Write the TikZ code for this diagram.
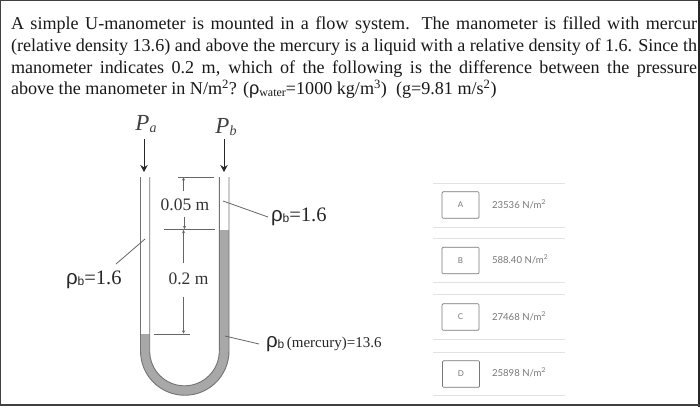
\documentclass[tikz,border=0pt]{standalone}
\usepackage{fontspec}
\setmainfont{Liberation Serif}
\newfontfamily\optfont{Lato}
\newfontfamily\rhofont{Liberation Sans}
\usetikzlibrary{arrows.meta}
\definecolor{merc}{HTML}{A8A8A8}
\definecolor{tube}{HTML}{666666}
\definecolor{optgrey}{HTML}{777777}
\definecolor{rulegrey}{HTML}{E2E2E2}
\newcommand{\rhob}{{\rhofont ρ}\raisebox{-1pt}{\rhofont\fontsize{12}{12}\selectfont b}}
\tikzset{
 every node/.style={inner sep=0pt,outer sep=0pt},
 qline/.style={anchor=base west,font=\fontsize{18.1}{22}\selectfont,text=black!90},
 sym/.style={font=\fontsize{23}{26}\selectfont\itshape,text=black!75},
 dimtext/.style={font=\fontsize{17.5}{20}\selectfont,text=black!80},
 rholabel/.style={font=\fontsize{20.5}{24}\selectfont,text=black!85},
 flow/.style={draw=black!85,line width=0.9pt,-{Stealth[length=7pt,width=7.5pt]}},
 dimrule/.style={draw=tube,line width=0.8pt},
 dimarrow/.style={draw=tube,line width=0.6pt,-{Stealth[length=3pt,width=3pt]}},
 leader/.style={draw=tube,line width=0.8pt},
 tubewall/.style={draw=black!55,line width=0.9pt},
 optbox/.style={draw=optgrey,rounded corners=1pt,line width=0.7pt,minimum width=37pt,minimum height=26.5pt,font=\optfont\fontsize{8}{9}\selectfont,text=optgrey},
 opttext/.style={anchor=west,font=\optfont\fontsize{9.6}{11}\selectfont,text=optgrey},
 optrule/.style={draw=rulegrey,line width=0.8pt}
}
\begin{document}
\begin{tikzpicture}[x=1pt,y=-1pt]
\useasboundingbox (0,0) rectangle (700,407);
\fill[white] (0,0) rectangle (700,407);
% question text
\node[qline] (l1) at (11,29) {\hbox to 686pt{A simple U-manometer is mounted in a flow system. The manometer is filled with mercur}};
\node[qline] (l2) at (11,51) {\hbox to 686pt{(relative density 13.6) and above the mercury is a liquid with a relative density of 1.6. Since th}};
\node[qline] (l3) at (11,73) {\hbox to 686pt{manometer indicates 0.2 m, which of the following is the difference between the pressure}};
\node[qline] (l4) at (11,94.5) {above the manometer in N/m\textsuperscript{2}? ({\rhofont ρ}\raisebox{-1.5pt}{\fontsize{12}{13}\selectfont water}=1000 kg/m\textsuperscript{3})\ \ (g=9.81 m/s\textsuperscript{2})};
% frame
\draw[black!75,line width=1.6pt] (0,0.5) -- (700,0.5);
\draw[black!75,line width=1.2pt] (0.5,0) -- (0.5,404);
\draw[black!85,line width=2pt] (699,0) -- (699,407);
\draw[black!75,line width=2.4pt] (0,405) -- (700,405);
% mercury
\fill[merc] (140.5,334) -- (149.7,334) -- (149.7,351)
  arc[start angle=180,end angle=360,x radius=34.8,y radius=-34.8] -- (219.3,230) -- (229,230) -- (229,351)
  arc[start angle=360,end angle=180,x radius=44.25,y radius=-44.25] -- cycle;
\draw[tubewall] (140.5,177) -- (140.5,351) arc[start angle=180,end angle=360,x radius=44.25,y radius=-44.25] -- (229,177);
\draw[tubewall] (149.7,177) -- (149.7,351) arc[start angle=180,end angle=360,x radius=34.8,y radius=-34.8] -- (219.3,177);
% pressure labels and arrows
\node[sym] (pa) at (146,124) {P\raisebox{-2pt}{\fontsize{14}{14}\selectfont a}};
\node[sym] (pb) at (226,127) {P\raisebox{-2pt}{\fontsize{14}{14}\selectfont b}};
\coordinate (pahead) at (144,172);
\coordinate (pbhead) at (224,172);
\coordinate (patail) at (144,139);
\coordinate (pbtail) at (224,139);
\draw[flow] (patail) -- (pahead);
\draw[flow] (pbtail) -- (pbhead);
% dimension rules
\coordinate (t1) at (178,177); \coordinate (t2) at (214,177);
\coordinate (m1) at (164,229.5); \coordinate (m2) at (215,229.5);
\coordinate (b1) at (154,334); \coordinate (b2) at (190,334);
\draw[dimrule] (t1) -- (t2);
\draw[dimrule] (m1) -- (m2);
\draw[dimrule] (b1) -- (b2);
\node[dimtext] (d05) at (185,205) {0.05 m};
\node[dimtext] (d02) at (188.5,279) {0.2 m};
\coordinate (a1) at (183.5,191); \coordinate (a1t) at (183.5,177.5);
\coordinate (a2) at (184.5,217); \coordinate (a2t) at (184.5,229);
\coordinate (a3) at (183.5,263); \coordinate (a3t) at (183.5,230);
\coordinate (a4) at (183.5,297); \coordinate (a4t) at (183.5,333.5);
\draw[dimarrow] (a1) -- (a1t);
\draw[dimarrow] (a2) -- (a2t);
\draw[dimarrow] (a3) -- (a3t);
\draw[dimarrow] (a4) -- (a4t);
% density labels with leaders
\node[rholabel,anchor=west] (rl) at (66,280) {\rhob=1.6};
\node[rholabel,anchor=west] (rr) at (271,217) {\rhob=1.6};
\node[rholabel,anchor=west] (rm) at (266,344) {\rhob\fontsize{15}{17}\selectfont\,(mercury)=13.6};
\coordinate (ll) at (145,239); \coordinate (lle) at (116,264);
\coordinate (lr) at (223,201); \coordinate (lre) at (268,217);
\coordinate (lm) at (225,336); \coordinate (lme) at (259,344);
\draw[leader] (ll) -- (lle);
\draw[leader] (lr) -- (lre);
\draw[leader] (lm) -- (lme);
% options
\foreach \ya/\yb in {183/227,238/282,294/339,352/395}{
 \draw[optrule] (433,\ya) -- (565,\ya);
 \draw[optrule] (433,\yb) -- (565,\yb);
}
\node[optbox] (oa) at (460.5,205) {A};
\node[optbox] (ob) at (460.5,260.5) {B};
\node[optbox] (oc) at (460.5,317) {C};
\node[optbox] (od) at (461,374) {D};
\node[opttext] (ta) at (492,204) {23536 N/m\textsuperscript{2}};
\node[opttext] (tb) at (492,259.5) {588.40 N/m\textsuperscript{2}};
\node[opttext] (tc) at (492,316) {27468 N/m\textsuperscript{2}};
\node[opttext] (td) at (492,372) {25898 N/m\textsuperscript{2}};
\end{tikzpicture}
\end{document}
